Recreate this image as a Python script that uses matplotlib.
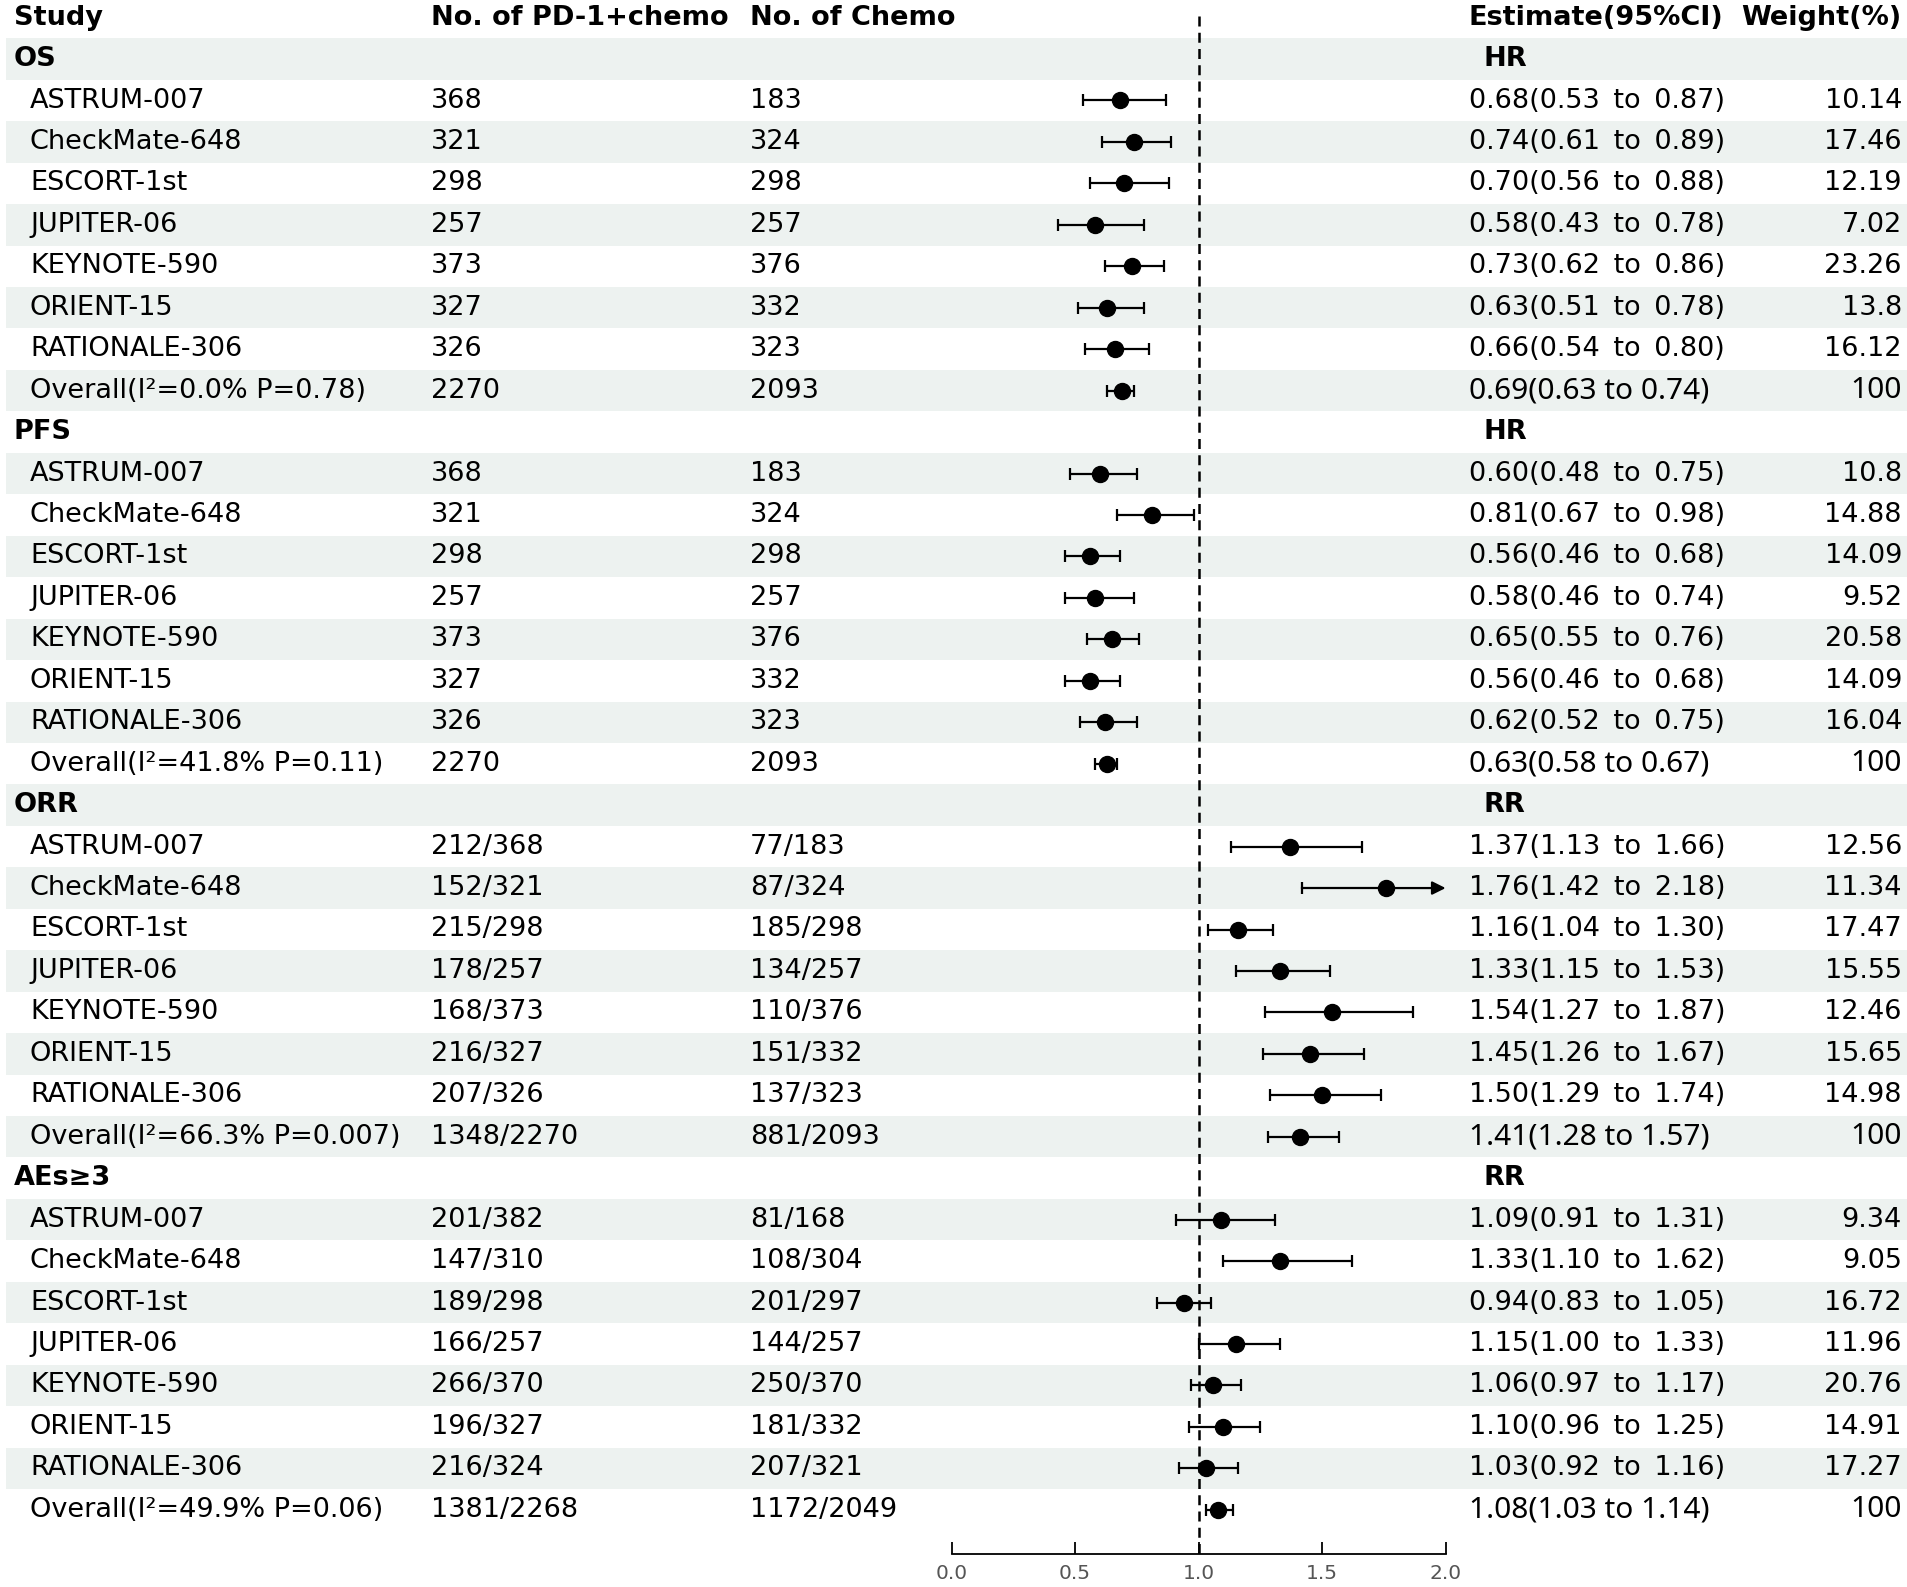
import numpy as np
import matplotlib.pyplot as plt

# ---- data -------------------------------------------------------------
studies = ["ASTRUM-007", "CheckMate-648", "ESCORT-1st", "JUPITER-06",
           "KEYNOTE-590", "ORIENT-15", "RATIONALE-306"]
sections = ["OS", "PFS", "ORR", "AEs\u22653"]
measures = ["HR", "HR", "RR", "RR"]
overall_labels = ["Overall(I\u00b2=0.0% P=0.78)",
                  "Overall(I\u00b2=41.8% P=0.11)",
                  "Overall(I\u00b2=66.3% P=0.007)",
                  "Overall(I\u00b2=49.9% P=0.06)"]

# patient numbers (last item = overall)
os_n1 = ["368", "321", "298", "257", "373", "327", "326", "2270"]
os_n2 = ["183", "324", "298", "257", "376", "332", "323", "2093"]
pfs_n1 = os_n1
pfs_n2 = os_n2
orr_n1 = ["212/368", "152/321", "215/298", "178/257", "168/373", "216/327", "207/326", "1348/2270"]
orr_n2 = ["77/183", "87/324", "185/298", "134/257", "110/376", "151/332", "137/323", "881/2093"]
ae_n1 = ["201/382", "147/310", "189/298", "166/257", "266/370", "196/327", "216/324", "1381/2268"]
ae_n2 = ["81/168", "108/304", "201/297", "144/257", "250/370", "181/332", "207/321", "1172/2049"]

# estimates, CI, weights (last item = overall)
os_est = [0.68, 0.74, 0.70, 0.58, 0.73, 0.63, 0.66, 0.69]
os_lo = [0.53, 0.61, 0.56, 0.43, 0.62, 0.51, 0.54, 0.63]
os_hi = [0.87, 0.89, 0.88, 0.78, 0.86, 0.78, 0.80, 0.74]
os_w = ["10.14", "17.46", "12.19", "7.02", "23.26", "13.8", "16.12", "100"]

pfs_est = [0.60, 0.81, 0.56, 0.58, 0.65, 0.56, 0.62, 0.63]
pfs_lo = [0.48, 0.67, 0.46, 0.46, 0.55, 0.46, 0.52, 0.58]
pfs_hi = [0.75, 0.98, 0.68, 0.74, 0.76, 0.68, 0.75, 0.67]
pfs_w = ["10.8", "14.88", "14.09", "9.52", "20.58", "14.09", "16.04", "100"]

orr_est = [1.37, 1.76, 1.16, 1.33, 1.54, 1.45, 1.50, 1.41]
orr_lo = [1.13, 1.42, 1.04, 1.15, 1.27, 1.26, 1.29, 1.28]
orr_hi = [1.66, 2.18, 1.30, 1.53, 1.87, 1.67, 1.74, 1.57]
orr_w = ["12.56", "11.34", "17.47", "15.55", "12.46", "15.65", "14.98", "100"]

ae_est = [1.09, 1.33, 0.94, 1.15, 1.06, 1.10, 1.03, 1.08]
ae_lo = [0.91, 1.10, 0.83, 1.00, 0.97, 0.96, 0.92, 1.03]
ae_hi = [1.31, 1.62, 1.05, 1.33, 1.17, 1.25, 1.16, 1.14]
ae_w = ["9.34", "9.05", "16.72", "11.96", "20.76", "14.91", "17.27", "100"]

n1_all = [os_n1, pfs_n1, orr_n1, ae_n1]
n2_all = [os_n2, pfs_n2, orr_n2, ae_n2]
est_all = [os_est, pfs_est, orr_est, ae_est]
lo_all = [os_lo, pfs_lo, orr_lo, ae_lo]
hi_all = [os_hi, pfs_hi, orr_hi, ae_hi]
w_all = [os_w, pfs_w, orr_w, ae_w]

# ---- layout (pixels at dpi 100) ----------------------------------------
W, H = 1908, 1587
row0_px, row_h = 17.6, 41.45          # centre of header row, row pitch
y_top = -row0_px / row_h
y_bot = (H - row0_px) / row_h
axis_row = (1554 - row0_px) / row_h
x0_px, x2_px = 951.6, 1445.6          # forest x = 0 and x = 2

FS = 19.5
shade = "#edf2f0"

fig = plt.figure(figsize=(W / 100, H / 100), dpi=100)
ax = fig.add_axes([0, 0, 1, 1])
ax.set_xlim(0, W)
ax.set_ylim(y_bot, y_top)
ax.axis("off")

fa = fig.add_axes([x0_px / W, 0, (x2_px - x0_px) / W, 1])
fa.set_facecolor("none")
fa.set_xlim(0, 2)
fa.set_ylim(y_bot, y_top)
for s in ["left", "right", "top"]:
    fa.spines[s].set_visible(False)
fa.spines["bottom"].set_position(("data", axis_row))
fa.spines["bottom"].set_linewidth(1.3)
fa.set_yticks([])
fa.set_xticks([0, 0.5, 1.0, 1.5, 2.0])
fa.set_xticklabels(["0.0", "0.5", "1.0", "1.5", "2.0"])
fa.tick_params(axis="x", direction="in", length=9, width=1.3,
               labelsize=14.5, labelcolor="#555555", pad=7)

# header
ax.text(14, 0, "Study", fontsize=FS, fontweight="bold", va="center")
ax.text(431, 0, "No. of PD-1+chemo", fontsize=FS, fontweight="bold", va="center")
ax.text(750, 0, "No. of Chemo", fontsize=FS, fontweight="bold", va="center")
ax.text(1469, 0, "Estimate(95%CI)", fontsize=FS, fontweight="bold", va="center")
ax.text(1901, 0, "Weight(%)", fontsize=FS, fontweight="bold", va="center", ha="right")

row = 1
for k, sec in enumerate(sections):
    # section header row
    if row % 2 == 1:
        ax.axhspan(row - 0.5, row + 0.5, xmin=6 / W, xmax=1, color=shade, lw=0, zorder=0)
    ax.text(14, row, sec, fontsize=FS, fontweight="bold", va="center")
    ax.text(1484, row, measures[k], fontsize=FS, fontweight="bold", va="center")
    row += 1
    for i in range(len(studies) + 1):
        overall = i == len(studies)
        if row % 2 == 1:
            ax.axhspan(row - 0.5, row + 0.5, xmin=6 / W, xmax=1, color=shade, lw=0, zorder=0)
        name = overall_labels[k] if overall else studies[i]
        e, lo, hi = est_all[k][i], lo_all[k][i], hi_all[k][i]
        ax.text(30, row, name, fontsize=FS, va="center")
        ax.text(431, row, n1_all[k][i], fontsize=FS, va="center")
        ax.text(750, row, n2_all[k][i], fontsize=FS, va="center")
        if overall:
            ax.text(1469, row, f"{e:.2f}({lo:.2f} to {hi:.2f})", fontsize=21.5,
                    va="center", family="Noto Sans")
            ax.text(1902, row, w_all[k][i], fontsize=21.5, va="center",
                    ha="right", family="Noto Sans")
        else:
            ax.text(1469, row, f"{e:.2f}({lo:.2f}\u2002to\u2002{hi:.2f})", fontsize=FS,
                    va="center")
            ax.text(1902, row, w_all[k][i], fontsize=FS, va="center", ha="right")

        # forest mark
        if hi > 2.0:
            fa.plot([lo, e], [row, row], color="black", lw=1.6, zorder=3)
            fa.plot([lo], [row], marker="|", ms=9, mew=1.6, color="black", zorder=3)
            fa.annotate("", xy=(2.0, row), xytext=(e, row),
                        arrowprops=dict(arrowstyle="-|>", color="black", lw=1.6,
                                        mutation_scale=20, shrinkA=0, shrinkB=0),
                        annotation_clip=False, zorder=3)
            fa.plot([e], [row], "o", color="black", ms=11.5, zorder=4)
        else:
            fa.errorbar(e, row, xerr=[[e - lo], [hi - e]], fmt="o", color="black",
                        ms=11.5, capsize=4.5, elinewidth=1.6, capthick=1.6, zorder=3)
        row += 1

# reference line at 1
fa.plot([1, 1], [-0.05, axis_row], color="black", lw=1.8, ls="--",
        dashes=(4, 2.5), zorder=2, clip_on=False)

fig.savefig("out.png", dpi=100)
